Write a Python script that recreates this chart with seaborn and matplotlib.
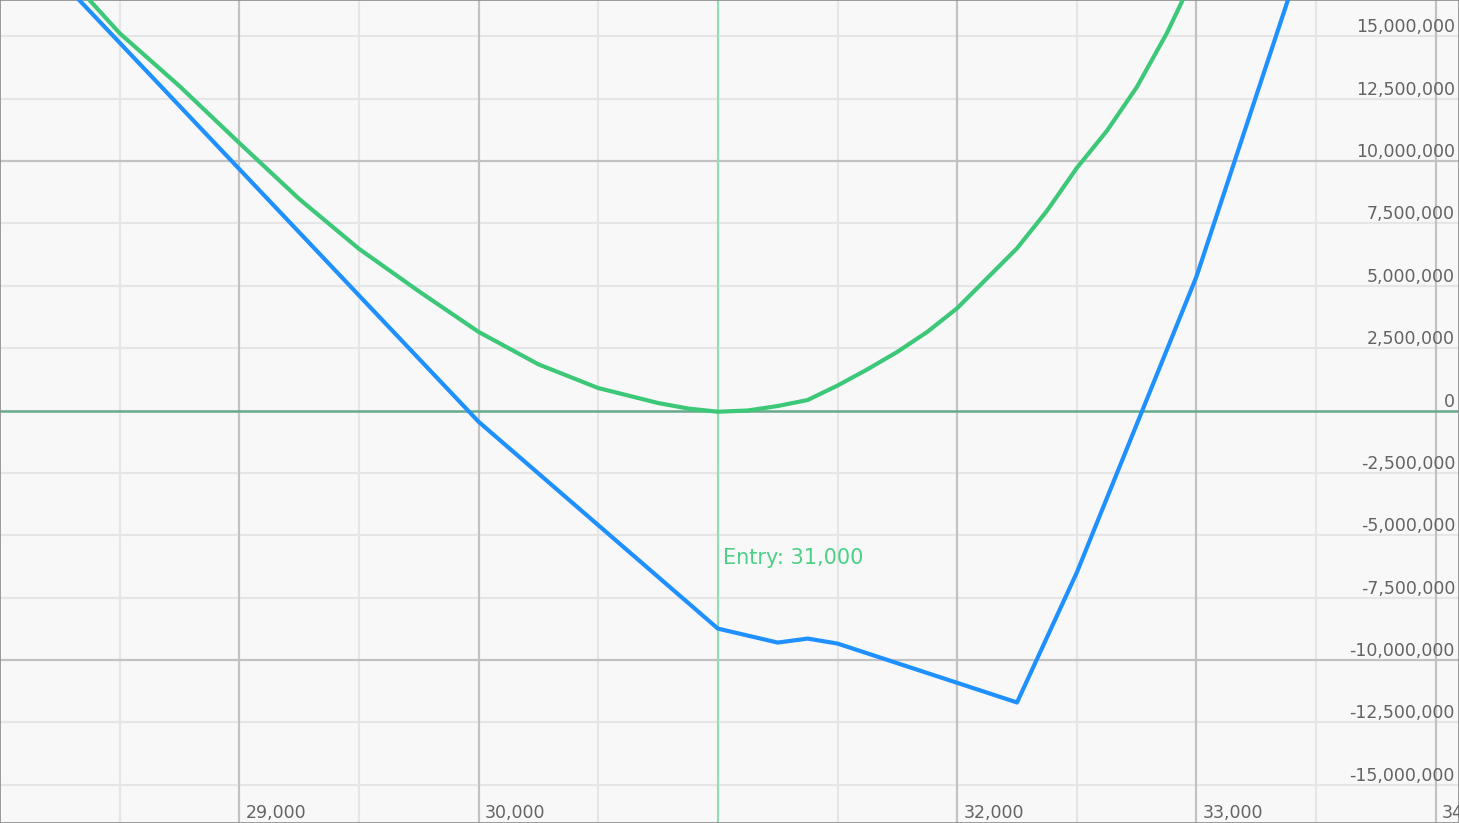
import matplotlib
matplotlib.use("Agg")
import matplotlib.pyplot as plt
import matplotlib.transforms as mtransforms
import seaborn as sns
import pandas as pd

# ---------------- data ----------------
# Blue payoff line (price, P&L)
blue_price = [28000, 30000, 31000, 31250, 31375, 31500, 32250, 32500, 33000, 33500]
blue_pnl = [19800000, -450000, -8740000, -9300000, -9140000, -9340000,
            -11700000, -6490000, 5370000, 19870000]

# Green curve (price, P&L)
green_price = [28000, 28250, 28500, 28750, 29000, 29250, 29500, 29750, 30000,
               30250, 30500, 30750, 30875, 31000, 31125, 31250, 31375, 31500,
               31625, 31750, 31875, 32000, 32125, 32250, 32375, 32500, 32625,
               32750, 32875, 33000]
green_pnl = [20500000, 17750000, 15120000, 13000000, 10720000, 8480000,
             6480000, 4780000, 3150000, 1850000, 900000, 300000, 80000,
             -50000, 0, 180000, 420000, 1000000, 1650000, 2350000, 3150000,
             4100000, 5300000, 6500000, 8000000, 9720000, 11200000,
             12950000, 15100000, 17600000]

entry_price = 31000
entry_label = "Entry: 31,000"

x_tick_values = [29000, 30000, 32000, 33000, 34000]
x_tick_labels = ["29,000", "30,000", "32,000", "33,000", "34,000"]
y_tick_values = [15000000, 12500000, 10000000, 7500000, 5000000, 2500000, 0,
                 -2500000, -5000000, -7500000, -10000000, -12500000, -15000000]
y_tick_labels = ["15,000,000", "12,500,000", "10,000,000", "7,500,000",
                 "5,000,000", "2,500,000", "0", "-2,500,000", "-5,000,000",
                 "-7,500,000", "-10,000,000", "-12,500,000", "-15,000,000"]

# ---------------- style ----------------
sns.set_style("white")
plt.rcParams["font.family"] = ["DejaVu Sans"]

BG = "#f8f8f8"
BLUE = "#1e90ff"
GREEN = "#3cc878"
ENTRY_LINE = "#8fdfb0"
ENTRY_TEXT = "#4ccf86"
ZERO = "#66a98c"
MAJOR = "#c2c2c2"
MINOR = "#e6e6e6"
TXT = "#636363"

fig = plt.figure(figsize=(14.59, 8.23), dpi=100)
fig.patch.set_facecolor(BG)
ax = fig.add_axes([0, 0, 1, 1])
ax.set_facecolor(BG)

xmin, xmax = 28000, 34097
ymin, ymax = -16530000, 16450000

# grid
for xv in range(28500, 34500, 1000):
    ax.axvline(xv, color=MINOR, lw=1.6, zorder=0)
for yv in [-15000000, -12500000, -7500000, -5000000, -2500000,
           2500000, 5000000, 7500000, 12500000, 15000000]:
    ax.axhline(yv, color=MINOR, lw=1.6, zorder=0)
for xv in [29000, 30000, 32000, 33000, 34000]:
    ax.axvline(xv, color=MAJOR, lw=1.6, zorder=0.5)
for yv in [-10000000, 10000000]:
    ax.axhline(yv, color=MAJOR, lw=1.6, zorder=0.5)
ax.axhline(0, color=ZERO, lw=1.8, zorder=1)
ax.axvline(entry_price, color=ENTRY_LINE, lw=1.5, zorder=1)

# series
df_blue = pd.DataFrame({"price": blue_price, "pnl": blue_pnl})
df_green = pd.DataFrame({"price": green_price, "pnl": green_pnl})
sns.lineplot(data=df_green, x="price", y="pnl", ax=ax, color=GREEN, lw=3.0,
             zorder=3, sort=True)
sns.lineplot(data=df_blue, x="price", y="pnl", ax=ax, color=BLUE, lw=3.0,
             zorder=4, sort=True)

ax.set_xlim(xmin, xmax)
ax.set_ylim(ymin, ymax)
ax.set_xticks([])
ax.set_yticks([])
ax.set_xlabel("")
ax.set_ylabel("")
for s in ax.spines.values():
    s.set_visible(True)
    s.set_color("#8a8a8a")
    s.set_linewidth(1.2)

# tick labels drawn inside plot
tr_y = mtransforms.blended_transform_factory(ax.transAxes, ax.transData)
tr_y = mtransforms.offset_copy(tr_y, fig=fig, x=-4, y=4, units="dots")
for v, lab in zip(y_tick_values, y_tick_labels):
    ax.text(1.0, v, lab, transform=tr_y, ha="right", va="baseline",
            fontsize=12.5, color=TXT, zorder=5)

tr_x = mtransforms.blended_transform_factory(ax.transData, ax.transAxes)
tr_x = mtransforms.offset_copy(tr_x, fig=fig, x=6, y=5, units="dots")
for v, lab in zip(x_tick_values, x_tick_labels):
    ax.text(v, 0.0, lab, transform=tr_x, ha="left", va="baseline",
            fontsize=12.5, color=TXT, zorder=5, clip_on=True)

# entry annotation
tr_e = mtransforms.offset_copy(ax.transData, fig=fig, x=5, y=0, units="dots")
ax.text(entry_price, -6170000, entry_label, transform=tr_e, ha="left",
        va="baseline", fontsize=15, color=ENTRY_TEXT, zorder=5)

fig.savefig("out.png", dpi=100, facecolor=BG)
